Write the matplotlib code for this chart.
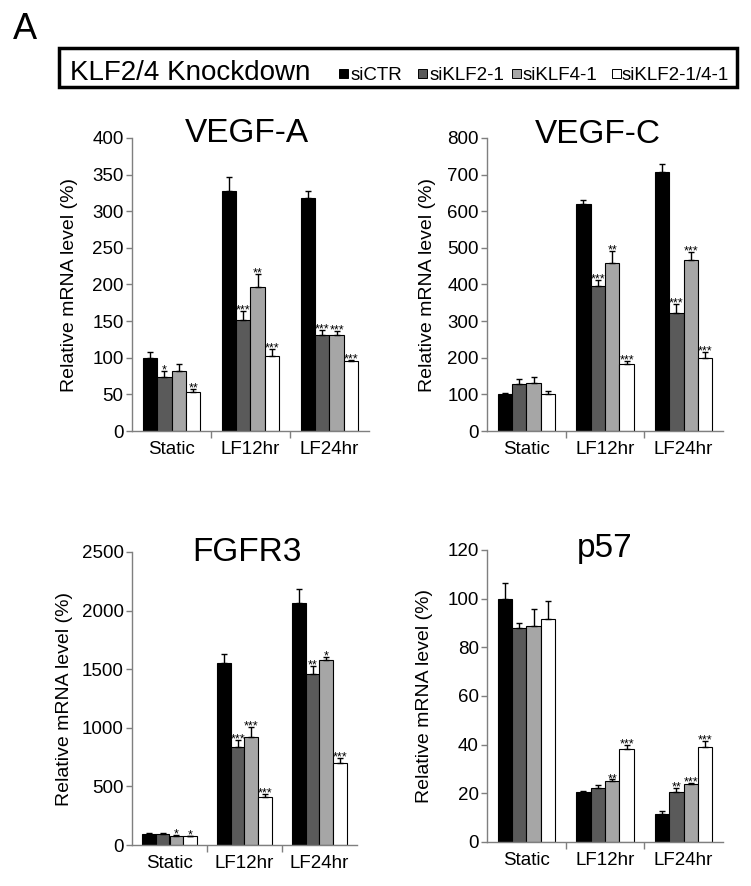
import matplotlib
matplotlib.use("Agg")
import matplotlib.pyplot as plt
from matplotlib.patches import Rectangle

plt.rcParams['font.family'] = ['Liberation Sans', 'DejaVu Sans']

categories = ["Static", "LF12hr", "LF24hr"]
series = ["siCTR", "siKLF2-1", "siKLF4-1", "siKLF2-1/4-1"]
colors = ["#000000", "#5a5a5a", "#a6a6a6", "#ffffff"]

# values[series][category]
vegfa_vals = [[100, 327, 318], [74, 152, 131], [82, 197, 131], [53, 103, 95]]
vegfa_err = [[8, 20, 10], [8, 12, 7], [10, 17, 6], [4, 9, 2]]
vegfa_sig = [["", "", ""], ["*", "***", "***"], ["", "**", "***"], ["**", "***", "***"]]

vegfc_vals = [[100, 620, 706], [127, 396, 323], [131, 460, 467], [102, 182, 198]]
vegfc_err = [[5, 11, 22], [14, 16, 24], [17, 31, 21], [8, 9, 18]]
vegfc_sig = [["", "", ""], ["", "***", "***"], ["", "**", "***"], ["", "***", "***"]]

fgfr3_vals = [[97, 1554, 2065], [94, 832, 1463], [80, 923, 1580], [74, 406, 696]]
fgfr3_err = [[5, 77, 120], [5, 68, 63], [5, 85, 25], [6, 29, 45]]
fgfr3_sig = [["", "", ""], ["", "***", "**"], ["*", "***", "*"], ["*", "***", "***"]]

p57_vals = [[100, 20.6, 11.5], [87.8, 22.2, 20.5], [88.8, 24.9, 23.9], [91.5, 38.2, 38.9]]
p57_err = [[6.4, 0.3, 1.1], [2.4, 1.3, 1.8], [7.0, 0.8, 0.3], [7.4, 1.8, 2.8]]
p57_sig = [["", "", ""], ["", "", "**"], ["", "**", "***"], ["", "***", "***"]]

panels = [
    ("VEGF-A", vegfa_vals, vegfa_err, vegfa_sig, 400, 50),
    ("VEGF-C", vegfc_vals, vegfc_err, vegfc_sig, 800, 100),
    ("FGFR3", fgfr3_vals, fgfr3_err, fgfr3_sig, 2500, 500),
    ("p57", p57_vals, p57_err, p57_sig, 120, 20),
]

W, H = 751, 886
fig = plt.figure(figsize=(W / 100, H / 100), dpi=100)

def px_axes(x0, x1, ytop, ybot):
    return fig.add_axes([x0 / W, 1 - ybot / H, (x1 - x0) / W, (ybot - ytop) / H])

# layout: (x0, x1, ytop, ybot, ylabel_x, title_x, title_y)
layouts = [
    (132, 369, 138, 431, -0.262, 0.487, 0.986),
    (487, 723, 138, 431, -0.250, 0.470, 0.983),
    (132, 357, 552, 845, -0.298, 0.511, 0.969),
    (487, 723, 550, 842, -0.263, 0.500, 0.976),
]

bw = 0.183
spine_col = "#7f7f7f"
for (title, vals, errs, sigs, ymax, ystep), (x0, x1, yt, yb, ylx, tx, ty) in zip(panels, layouts):
    ax = px_axes(x0, x1, yt, yb)
    for si in range(4):
        xs = [ci + 0.5 + (si - 1.5) * bw for ci in range(3)]
        ax.bar(xs, vals[si], width=bw, color=colors[si], edgecolor="black",
               linewidth=0.8, zorder=2)
        ax.errorbar(xs, vals[si], yerr=[[0] * 3, errs[si]], fmt="none",
                    ecolor="black", elinewidth=1.0, capsize=2.2, capthick=1.0, zorder=3)
        for ci in range(3):
            s = sigs[si][ci]
            if s:
                ax.annotate(s, (xs[ci], vals[si][ci] + errs[si][ci]),
                            xytext=(0, -1.8), textcoords="offset points",
                            ha="center", va="baseline", fontsize=9)
    ax.set_xlim(0, 3)
    ax.set_ylim(0, ymax)
    ax.set_yticks(range(0, ymax + 1, ystep))
    ax.tick_params(axis="y", labelsize=13.5, length=4, width=1, color=spine_col, pad=2)
    ax.set_xticks([1, 2])
    ax.set_xticklabels([])
    ax.set_xticks([0.5, 1.5, 2.5], minor=True)
    ax.set_xticklabels(categories, minor=True, fontsize=13.5)
    ax.tick_params(axis="x", which="major", length=5, width=1, color=spine_col)
    ax.tick_params(axis="x", which="minor", length=0, pad=7)
    for sp in ["top", "right"]:
        ax.spines[sp].set_visible(False)
    for sp in ["left", "bottom"]:
        ax.spines[sp].set_color(spine_col)
        ax.spines[sp].set_linewidth(1.0)
    ax.set_ylabel("Relative mRNA level (%)", fontsize=14)
    ax.yaxis.label.set_va("center")
    ax.yaxis.set_label_coords(ylx, 0.5)
    ax.text(tx, ty, title, transform=ax.transAxes, ha="center", va="baseline",
            fontsize=24, clip_on=False)

# panel letter
fig.text(13 / W, 1 - 39 / H, "A", fontsize=26, ha="left", va="baseline")

# legend box
fig.patches.append(Rectangle((59 / W, 1 - 87 / H), (737 - 59) / W, (87 - 48) / H,
                             transform=fig.transFigure, fill=False,
                             edgecolor="black", linewidth=2.5))
base = 1 - 80 / H
fig.text(70 / W, base, "KLF2/4 Knockdown", fontsize=20, ha="left", va="baseline")
mark_x = [339, 418, 512, 612]
text_x = [351, 430, 523, 622]
for mx, txx, lab, col in zip(mark_x, text_x, series, colors):
    fig.patches.append(Rectangle((mx / W, 1 - 78 / H), 9 / W, 9 / H,
                                 transform=fig.transFigure, facecolor=col,
                                 edgecolor="black", linewidth=0.7))
    fig.text(txx / W, base, lab, fontsize=13.5, ha="left", va="baseline")

fig.savefig("out.png", dpi=100)
